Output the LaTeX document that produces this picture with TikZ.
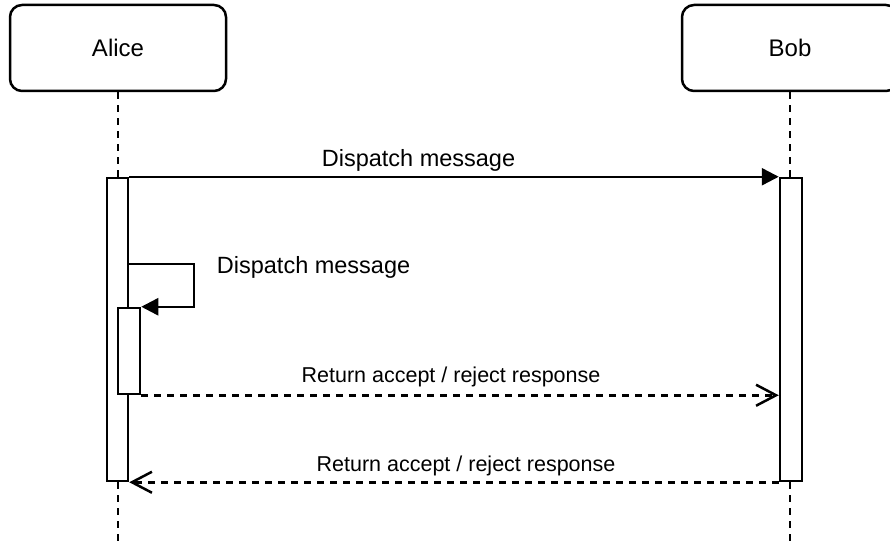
\documentclass[tikz,border=0pt]{standalone}
\usepackage{fontspec}
\setmainfont{Liberation Sans}
\usetikzlibrary{arrows.meta}

\tikzset{
  actor/.style={draw, line width=2.5pt, rounded corners=12pt, fill=white,
    minimum width=216pt, minimum height=86pt, inner sep=0pt,
    font=\fontsize{24}{28}\selectfont},
  lifeline/.style={line width=2.5pt, dash pattern=on 6.5pt off 6.5pt},
  activation/.style={draw, line width=2.5pt, fill=white, inner sep=0pt},
  call/.style={line width=2.5pt, -{Triangle[length=17pt,width=17pt]}},
  reply/.style={line width=2.5pt, dash pattern=on 6.5pt off 6.5pt,
    -{Straight Barb[length=20pt,width=21pt,line width=2.5pt]}},
  msglabel/.style={anchor=base, inner sep=0pt, font=\fontsize{23.5}{28}\selectfont},
  replylabel/.style={anchor=base, inner sep=0pt, font=\fontsize{21.5}{26}\selectfont},
}

\begin{document}
\begin{tikzpicture}[x=1pt, y=-1pt]
  \useasboundingbox (0,0) rectangle (890,540);
  \clip (0,0) rectangle (890,540);

  % participants
  \node[actor] (alice) at (118,48) {Alice};
  \node[actor] (bob)   at (790,48) {Bob};

  % lifelines
  \coordinate (aliceEnd) at (118,545);
  \coordinate (bobEnd)   at (790,545);
  \draw[lifeline] (alice.south) -- (aliceEnd);
  \draw[lifeline] (bob.south) -- (bobEnd);

  % activation bars
  \node[activation, minimum width=21pt, minimum height=303pt] (actA) at (117.5,329.5) {};
  \node[activation, minimum width=22pt, minimum height=303pt] (actB) at (791,329.5) {};
  \node[activation, minimum width=22pt, minimum height=86pt]  (actS) at (129,351) {};

  % Alice -> Bob
  \draw[call] (actA.north east) -- (actB.north west);
  \node[msglabel] (lbl1) at (418.5,166) {Dispatch message};

  % self call
  \coordinate (selfStart) at (128.5,264);
  \draw[call] (selfStart) -- ++(65.5,0) |- (actS.north east);
  \node[msglabel, anchor=base west] (lbl2) at (216.7,273) {Dispatch message};

  % replies
  \draw[reply] (actS.south east) -- (actB.west |- actS.south east);
  \node[replylabel] (lbl3) at (451,382) {Return accept / reject response};

  \draw[reply] (actB.south west) -- (actA.south east);
  \node[replylabel] (lbl4) at (466,471) {Return accept / reject response};
\end{tikzpicture}
\end{document}
